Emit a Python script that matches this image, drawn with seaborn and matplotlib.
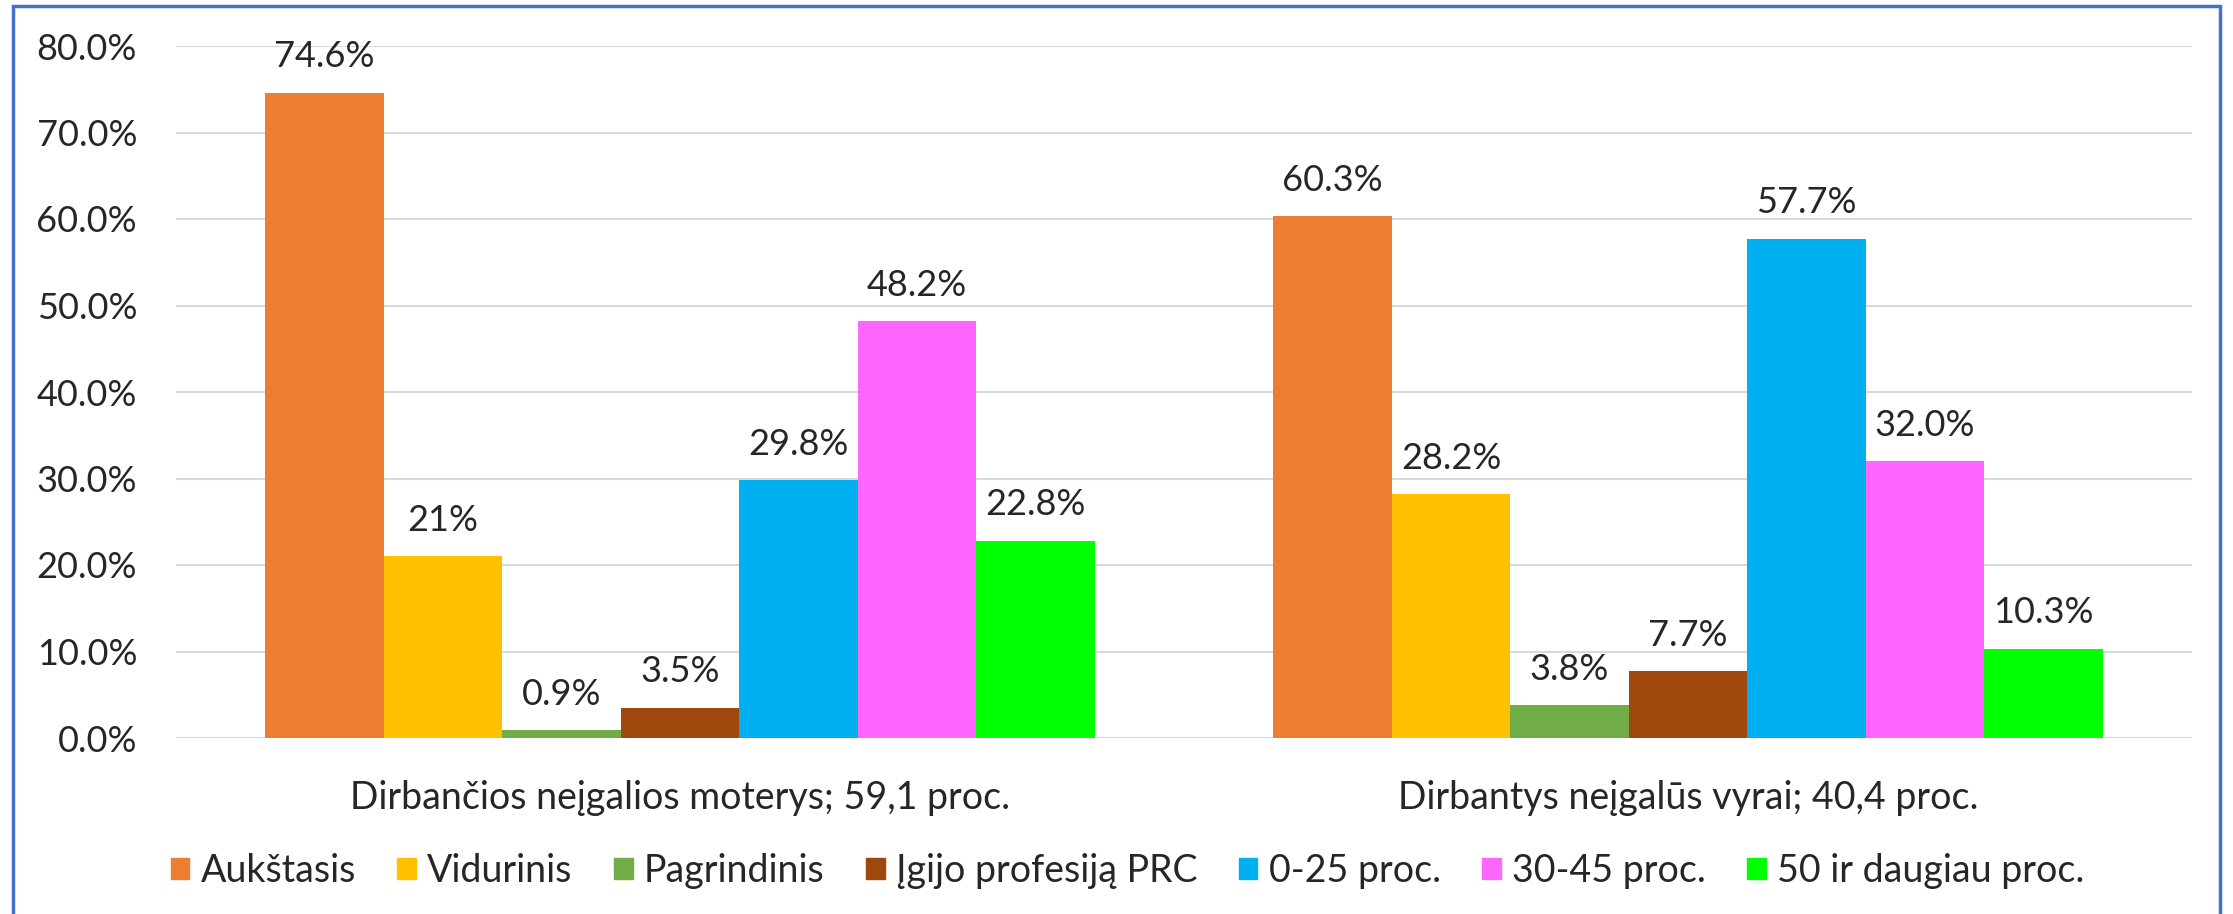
import numpy as np
import pandas as pd
import seaborn as sns
import matplotlib.pyplot as plt
from matplotlib.patches import Rectangle

# ==========================
# DATA
# ==========================

groups = ["Dirbančios neįgalios moterys; 59,1 proc.",
          "Dirbantys neįgalūs vyrai; 40,4 proc."]
series = ["Aukštasis", "Vidurinis", "Pagrindinis", "Įgijo profesiją PRC",
          "0-25 proc.", "30-45 proc.", "50 ir daugiau proc."]

moterys = [74.6, 21.0, 0.9, 3.5, 29.8, 48.2, 22.8]
vyrai = [60.3, 28.2, 3.8, 7.7, 57.7, 32.0, 10.3]

moterys_labels = ["74.6%", "21%", "0.9%", "3.5%", "29.8%", "48.2%", "22.8%"]
vyrai_labels = ["60.3%", "28.2%", "3.8%", "7.7%", "57.7%", "32.0%", "10.3%"]

y_ticks = [0, 10, 20, 30, 40, 50, 60, 70, 80]

colors = ["#ED7D31", "#FFC000", "#70AD47", "#9E480E",
          "#00B0F0", "#FF66FF", "#00FF00"]

# ==========================
# PLOT
# ==========================

df = pd.DataFrame({
    "grupe": [groups[0]] * len(series) + [groups[1]] * len(series),
    "serija": series + series,
    "reiksme": moterys + vyrai,
})

sns.set_style("white")
plt.rcParams["font.family"] = ["Lato", "DejaVu Sans"]

W, H = 2233, 914
fig = plt.figure(figsize=(W / 100, H / 100), dpi=100)
ax = fig.add_axes([176 / W, 1 - 738 / H, (2192 - 176) / W, (738 - 46) / H])

sns.barplot(data=df, x="grupe", y="reiksme", hue="serija", hue_order=series,
            order=groups, palette=colors, saturation=1, width=0.823,
            linewidth=0, ax=ax, legend=False)

for i, cont in enumerate(ax.containers):
    ax.bar_label(cont, labels=[moterys_labels[i], vyrai_labels[i]],
                 padding=14, fontsize=26)

ax.set_ylim(0, 80)
ax.set_xlim(-0.5, 1.5)
ax.set_yticks(y_ticks)
ax.set_yticklabels([f"{v:.1f}%" for v in y_ticks], fontsize=26)
ax.tick_params(axis="y", length=0, pad=28)
ax.tick_params(axis="x", length=0, pad=30, labelsize=27)
ax.set_xlabel("")
ax.set_ylabel("")
ax.yaxis.grid(True, color="#D9D9D9", linewidth=1.5)
ax.set_axisbelow(True)
for s in ax.spines.values():
    s.set_visible(False)

# legend
handles = [Rectangle((0, 0), 1, 1, color=c) for c in colors]
fig.legend(handles, series, loc="center", bbox_to_anchor=(0.505, 1 - 871 / H),
           ncol=7, frameon=False, fontsize=27, handlelength=0.5,
           handleheight=0.5, handletextpad=0.3, columnspacing=1.1)

# blue border
fig.patches.append(Rectangle((13 / W, -0.02), (2220 - 13) / W, 1.02 - 6 / H,
                             transform=fig.transFigure, fill=False,
                             edgecolor="#4472C4", linewidth=2.5))

plt.savefig("out.png", dpi=100)
